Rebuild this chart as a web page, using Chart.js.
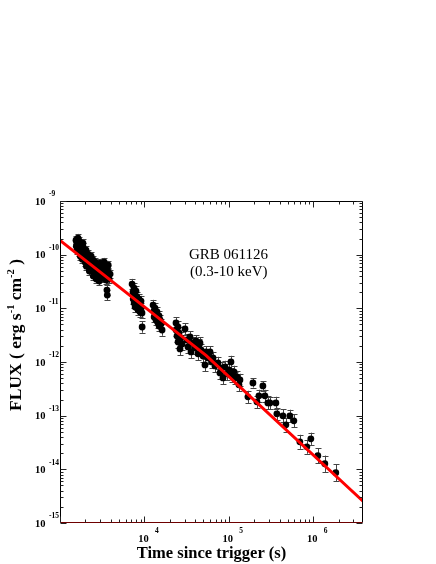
<!DOCTYPE html>
<html><head><meta charset="utf-8">
<script src="https://cdn.jsdelivr.net/npm/chart.js@4.4.1/dist/chart.umd.min.js"></script>
<style>html,body{margin:0;padding:0;background:#fff}#wrap{width:436px;height:564px;position:relative}</style>
</head><body><div id="wrap"><canvas id="c"></canvas></div>
<script>
// Observation times (s since trigger)
const times = [
 1548,1561,1590,1604,1636,1650,1680,1694,1727,1741,1775,1789,1824,1838,1881,1926,1940,1987,2035,2049,
 2098,2149,2163,2215,2270,2284,2340,2397,2411,2470,2538,2602,2616,2681,2748,2762,2831,2909,2983,2997,
 3072,3150,3164,3244,3334,3419,3433,3520,3610,3624,3717,3820,3925,3600,3634,
 2055,2225,2480,2690,2920,1870,3345,3730,
 7151,7330,7368,7540,7564,7745,7775,7960,7988,8180,8208,8405,8435,8640,8666,8878,8904,9125,9150,9370,9410,
 12680,13010,13050,13370,13410,13750,14110,14150,14520,14910,14950,15340,15760,16200,
 23700,23740,24380,25030,25070,25740,26450,27180,27930,30310,32010,32890,34740,35700,37700,39810,40910,43200,
 44400,45620,46880,49510,52290,53730,56750,59930,63290,65040,68680,74510,78690,83100,85400,90190,95240,100500,
 106200,109100,115200,118400,125100,132100,135700,
 168700,193400,215700,227800,253900,268200,291000,307300,361900,371900,437900,475200,530100,591000,696000,
 842200,939300,1137000,1376000,1856000
];
// Flux 0.3-10 keV (erg s^-1 cm^-2)
const fluxes = [
 1.86e-10,1.439e-10,1.636e-10,1.212e-10,2.03e-10,1.50e-10,1.113e-10,1.78e-10,1.378e-10,9.38e-11,
 1.636e-10,1.212e-10,1.066e-10,8.25e-11,1.378e-10,1.161e-10,8.98e-11,7.25e-11,1.212e-10,9.38e-11,
 7.90e-11,1.021e-10,6.66e-11,8.61e-11,7.25e-11,5.61e-11,9.38e-11,6.38e-11,4.94e-11,7.90e-11,
 6.11e-11,5.15e-11,7.25e-11,4.34e-11,6.38e-11,5.15e-11,3.99e-11,5.61e-11,6.95e-11,4.73e-11,
 3.66e-11,6.11e-11,4.34e-11,5.15e-11,3.82e-11,6.38e-11,4.53e-11,3.36e-11,5.61e-11,3.99e-11,
 4.73e-11,3.51e-11,4.34e-11,2.19e-11,1.77e-11,
 6.11e-11,4.94e-11,3.99e-11,3.51e-11,3.22e-11,1.636e-10,7.25e-11,6.38e-11,
 2.83e-11,2.01e-11,1.49e-11,2.38e-11,1.255e-11,1.77e-11,1.058e-11,2.10e-11,1.427e-11,1.62e-11,1.152e-11,
 1.31e-11,9.30e-12,1.49e-11,1.104e-11,1.202e-11,8.54e-12,1.367e-11,1.013e-11,8.18e-12,4.49e-12,
 1.152e-11,8.91e-12,6.90e-12,1.013e-11,7.84e-12,6.06e-12,8.54e-12,6.61e-12,5.33e-12,7.20e-12,4.69e-12,
 6.06e-12,5.11e-12,3.95e-12,
 5.33e-12,3.95e-12,3.06e-12,4.49e-12,2.36e-12,3.47e-12,1.75e-12,2.81e-12,2.17e-12,4.12e-12,2.57e-12,
 1.91e-12,2.93e-12,1.54e-12,2.26e-12,1.83e-12,2.46e-12,1.42e-12,2.08e-12,2.26e-12,1.68e-12,1.30e-12,
 8.83e-13,1.54e-12,1.19e-12,1.54e-12,1.004e-12,1.19e-12,8.46e-13,9.62e-13,6.27e-13,7.77e-13,5.06e-13,
 8.11e-13,6.01e-13,7.13e-13,1.004e-12,5.51e-13,6.55e-13,5.06e-13,5.28e-13,3.75e-13,4.64e-13,
 2.24e-13,4.08e-13,1.81e-13,2.34e-13,3.59e-13,2.34e-13,1.73e-13,1.73e-13,1.73e-13,1.081e-13,9.93e-14,
 6.75e-14,9.93e-14,8.02e-14,3.26e-14,2.63e-14,3.71e-14,1.79e-14,1.27e-14,8.65e-15
];
// Fractional 1-sigma flux errors
const relErr = [
 0.18,0.2,0.18,0.2,0.2,0.18,0.2,0.2,0.18,0.2,0.2,0.18,0.2,0.2,0.18,0.2,0.2,0.2,0.18,0.2,
 0.2,0.2,0.2,0.18,0.2,0.2,0.2,0.2,0.2,0.2,0.2,0.2,0.2,0.2,0.2,0.2,0.2,0.2,0.2,0.2,
 0.2,0.2,0.2,0.2,0.2,0.2,0.2,0.2,0.2,0.2,0.2,0.2,0.2,0.25,0.25,
 0.2,0.2,0.2,0.2,0.2,0.2,0.2,0.2,
 0.25,0.25,0.25,0.25,0.25,0.25,0.25,0.25,0.25,0.25,0.25,0.25,0.25,0.25,0.25,0.25,0.25,0.25,0.25,0.25,0.28,
 0.25,0.25,0.25,0.25,0.25,0.25,0.25,0.25,0.25,0.25,0.25,0.25,0.25,0.28,
 0.28,0.28,0.28,0.28,0.28,0.28,0.3,0.28,0.28,0.28,0.28,0.28,0.28,0.3,0.28,0.28,0.28,0.3,0.28,0.28,0.28,0.3,
 0.3,0.28,0.3,0.28,0.3,0.3,0.3,0.3,0.3,0.3,0.3,0.3,0.3,0.3,0.3,0.3,0.3,0.3,0.3,0.3,0.3,
 0.3,0.22,0.3,0.3,0.22,0.3,0.32,0.3,0.3,0.3,0.32,0.35,0.3,0.32,0.35,0.35,0.3,0.38,0.42,0.45
];
// Broken power-law fit (red line)
const fitTimes = [1000, 53730, 3900000];
const fitFlux = [1.845e-10, 1.326e-12, 2.54e-15];
// Axis decades and texts
const yTickExp = [-9, -10, -11, -12, -13, -14, -15];
const xTickExp = [4, 5, 6];
const xTitle = 'Time since trigger (s)';
const yTitleParts = [['FLUX ( erg s', 0], ['-1', 1], [' cm', 0], ['-2', 1], [' )', 0]];
const noteLines = ['GRB 061126', '(0.3-10 keV)'];

const SERIF = '"Liberation Serif", "Times New Roman", serif';

const decor = {
  id: 'decor',
  beforeDatasetsDraw(chart) {
    const {ctx, scales: {x, y}} = chart;
    ctx.save();
    ctx.strokeStyle = '#444';
    ctx.lineWidth = 1;
    for (let i = 0; i < times.length; i++) {
      const px = Math.round(x.getPixelForValue(times[i])) + 0.5;
      const hi = y.getPixelForValue(fluxes[i] * (1 + relErr[i]));
      const lo = y.getPixelForValue(fluxes[i] / (1 + relErr[i]));
      ctx.beginPath();
      ctx.moveTo(px, hi); ctx.lineTo(px, lo);
      ctx.moveTo(px - 3, Math.round(hi) + 0.5); ctx.lineTo(px + 3, Math.round(hi) + 0.5);
      ctx.moveTo(px - 3, Math.round(lo) + 0.5); ctx.lineTo(px + 3, Math.round(lo) + 0.5);
      ctx.stroke();
    }
    ctx.restore();
  },
  afterDraw(chart) {
    const {ctx, chartArea: {left, right, top, bottom}, scales: {x, y}} = chart;
    const L = Math.round(left) + 0.5, R = Math.round(right) - 0.5;
    const T = Math.round(top) + 0.5, B = Math.round(bottom) - 0.5;
    ctx.save();
    ctx.lineWidth = 1;
    // frame
    ctx.strokeStyle = '#000';
    ctx.beginPath();
    ctx.moveTo(L, B); ctx.lineTo(L, T); ctx.lineTo(R, T); ctx.lineTo(R, B);
    ctx.stroke();
    ctx.strokeStyle = '#6e0000';
    ctx.beginPath(); ctx.moveTo(L, B); ctx.lineTo(R, B); ctx.stroke();
    // y ticks
    ctx.strokeStyle = '#222';
    const eMinY = Math.min(...yTickExp), eMaxY = Math.max(...yTickExp);
    ctx.beginPath();
    for (let e = eMinY; e <= eMaxY; e++) {
      for (let k = 1; k < 10; k++) {
        if (e === eMaxY && k > 1) break;
        const py = Math.round(y.getPixelForValue(k * Math.pow(10, e))) + 0.5;
        const len = k === 1 ? 6 : 3;
        ctx.moveTo(L, py); ctx.lineTo(L + len, py);
        ctx.moveTo(R, py); ctx.lineTo(R - len, py);
      }
    }
    // x ticks
    for (let e = 3; e <= 6; e++) {
      for (let k = 1; k < 10; k++) {
        const v = k * Math.pow(10, e);
        if (v < x.min || v > x.max) continue;
        const px = Math.round(x.getPixelForValue(v)) + 0.5;
        const len = k === 1 ? 6 : 3;
        ctx.moveTo(px, B); ctx.lineTo(px, B - len);
        ctx.moveTo(px, T); ctx.lineTo(px, T + len);
      }
    }
    ctx.stroke();
    // tick labels
    ctx.fillStyle = '#000';
    yTickExp.forEach(e => {
      const py = y.getPixelForValue(Math.pow(10, e));
      ctx.font = 'bold 10.5px ' + SERIF;
      ctx.textAlign = 'right'; ctx.textBaseline = 'middle';
      ctx.fillText('10', 45.5, py + 1);
      ctx.font = 'bold 7.5px ' + SERIF;
      ctx.textAlign = 'left';
      ctx.fillText(String(e), 49, py - 6.5);
    });
    xTickExp.forEach(e => {
      const px = x.getPixelForValue(Math.pow(10, e));
      ctx.font = 'bold 10.5px ' + SERIF;
      ctx.textAlign = 'center'; ctx.textBaseline = 'middle';
      ctx.fillText('10', px - 1, 539.5);
      ctx.font = 'bold 7.5px ' + SERIF;
      ctx.textAlign = 'left';
      ctx.fillText(String(e), px + 10.5, 531);
    });
    // x title
    ctx.font = 'bold 16.5px ' + SERIF;
    ctx.textAlign = 'center'; ctx.textBaseline = 'middle';
    ctx.fillText(xTitle, (left + right) / 2, 553.5);
    // y title (rotated, with superscripts)
    ctx.save();
    ctx.translate(21, 335);
    ctx.rotate(-Math.PI / 2);
    const mainF = 'bold 17.5px ' + SERIF, supF = 'bold 10.5px ' + SERIF;
    let total = 0;
    yTitleParts.forEach(([t, s]) => { ctx.font = s ? supF : mainF; total += ctx.measureText(t).width; });
    let cx = -total / 2;
    ctx.textAlign = 'left'; ctx.textBaseline = 'alphabetic';
    yTitleParts.forEach(([t, s]) => {
      ctx.font = s ? supF : mainF;
      ctx.fillText(t, cx, s ? -7.5 : 0);
      cx += ctx.measureText(t).width;
    });
    ctx.restore();
    // annotation
    ctx.font = '15px ' + SERIF;
    ctx.textAlign = 'left'; ctx.textBaseline = 'middle';
    ctx.fillText(noteLines[0], 189, 255);
    ctx.fillText(noteLines[1], 190, 272.5);
    ctx.restore();
  }
};

new Chart(document.getElementById('c'), {
  type: 'scatter',
  data: {
    datasets: [
      {
        label: 'fit',
        data: fitTimes.map((t, i) => ({x: t, y: fitFlux[i]})),
        showLine: true,
        borderColor: '#ff0000',
        borderWidth: 3,
        pointRadius: 0,
        fill: false,
        order: 0
      },
      {
        label: 'GRB 061126',
        data: times.map((t, i) => ({x: t, y: fluxes[i]})),
        pointRadius: 3.4,
        pointBackgroundColor: '#000',
        pointBorderColor: '#000',
        pointBorderWidth: 0,
        order: 1
      }
    ]
  },
  options: {
    responsive: true,
    maintainAspectRatio: false,
    animation: false,
    devicePixelRatio: 1,
    layout: {padding: {top: 201, right: 73, bottom: 0, left: 0}},
    plugins: {legend: {display: false}, tooltip: {enabled: false}},
    scales: {
      x: {
        type: 'logarithmic', min: 1000, max: 3900000,
        grid: {display: false}, border: {display: false}, ticks: {display: false},
        afterFit(s) { s.height = 41; }
      },
      y: {
        type: 'logarithmic', min: 1e-15, max: 1e-9,
        grid: {display: false}, border: {display: false}, ticks: {display: false},
        afterFit(s) { s.width = 60; }
      }
    }
  },
  plugins: [decor]
});
</script>
</body></html>
